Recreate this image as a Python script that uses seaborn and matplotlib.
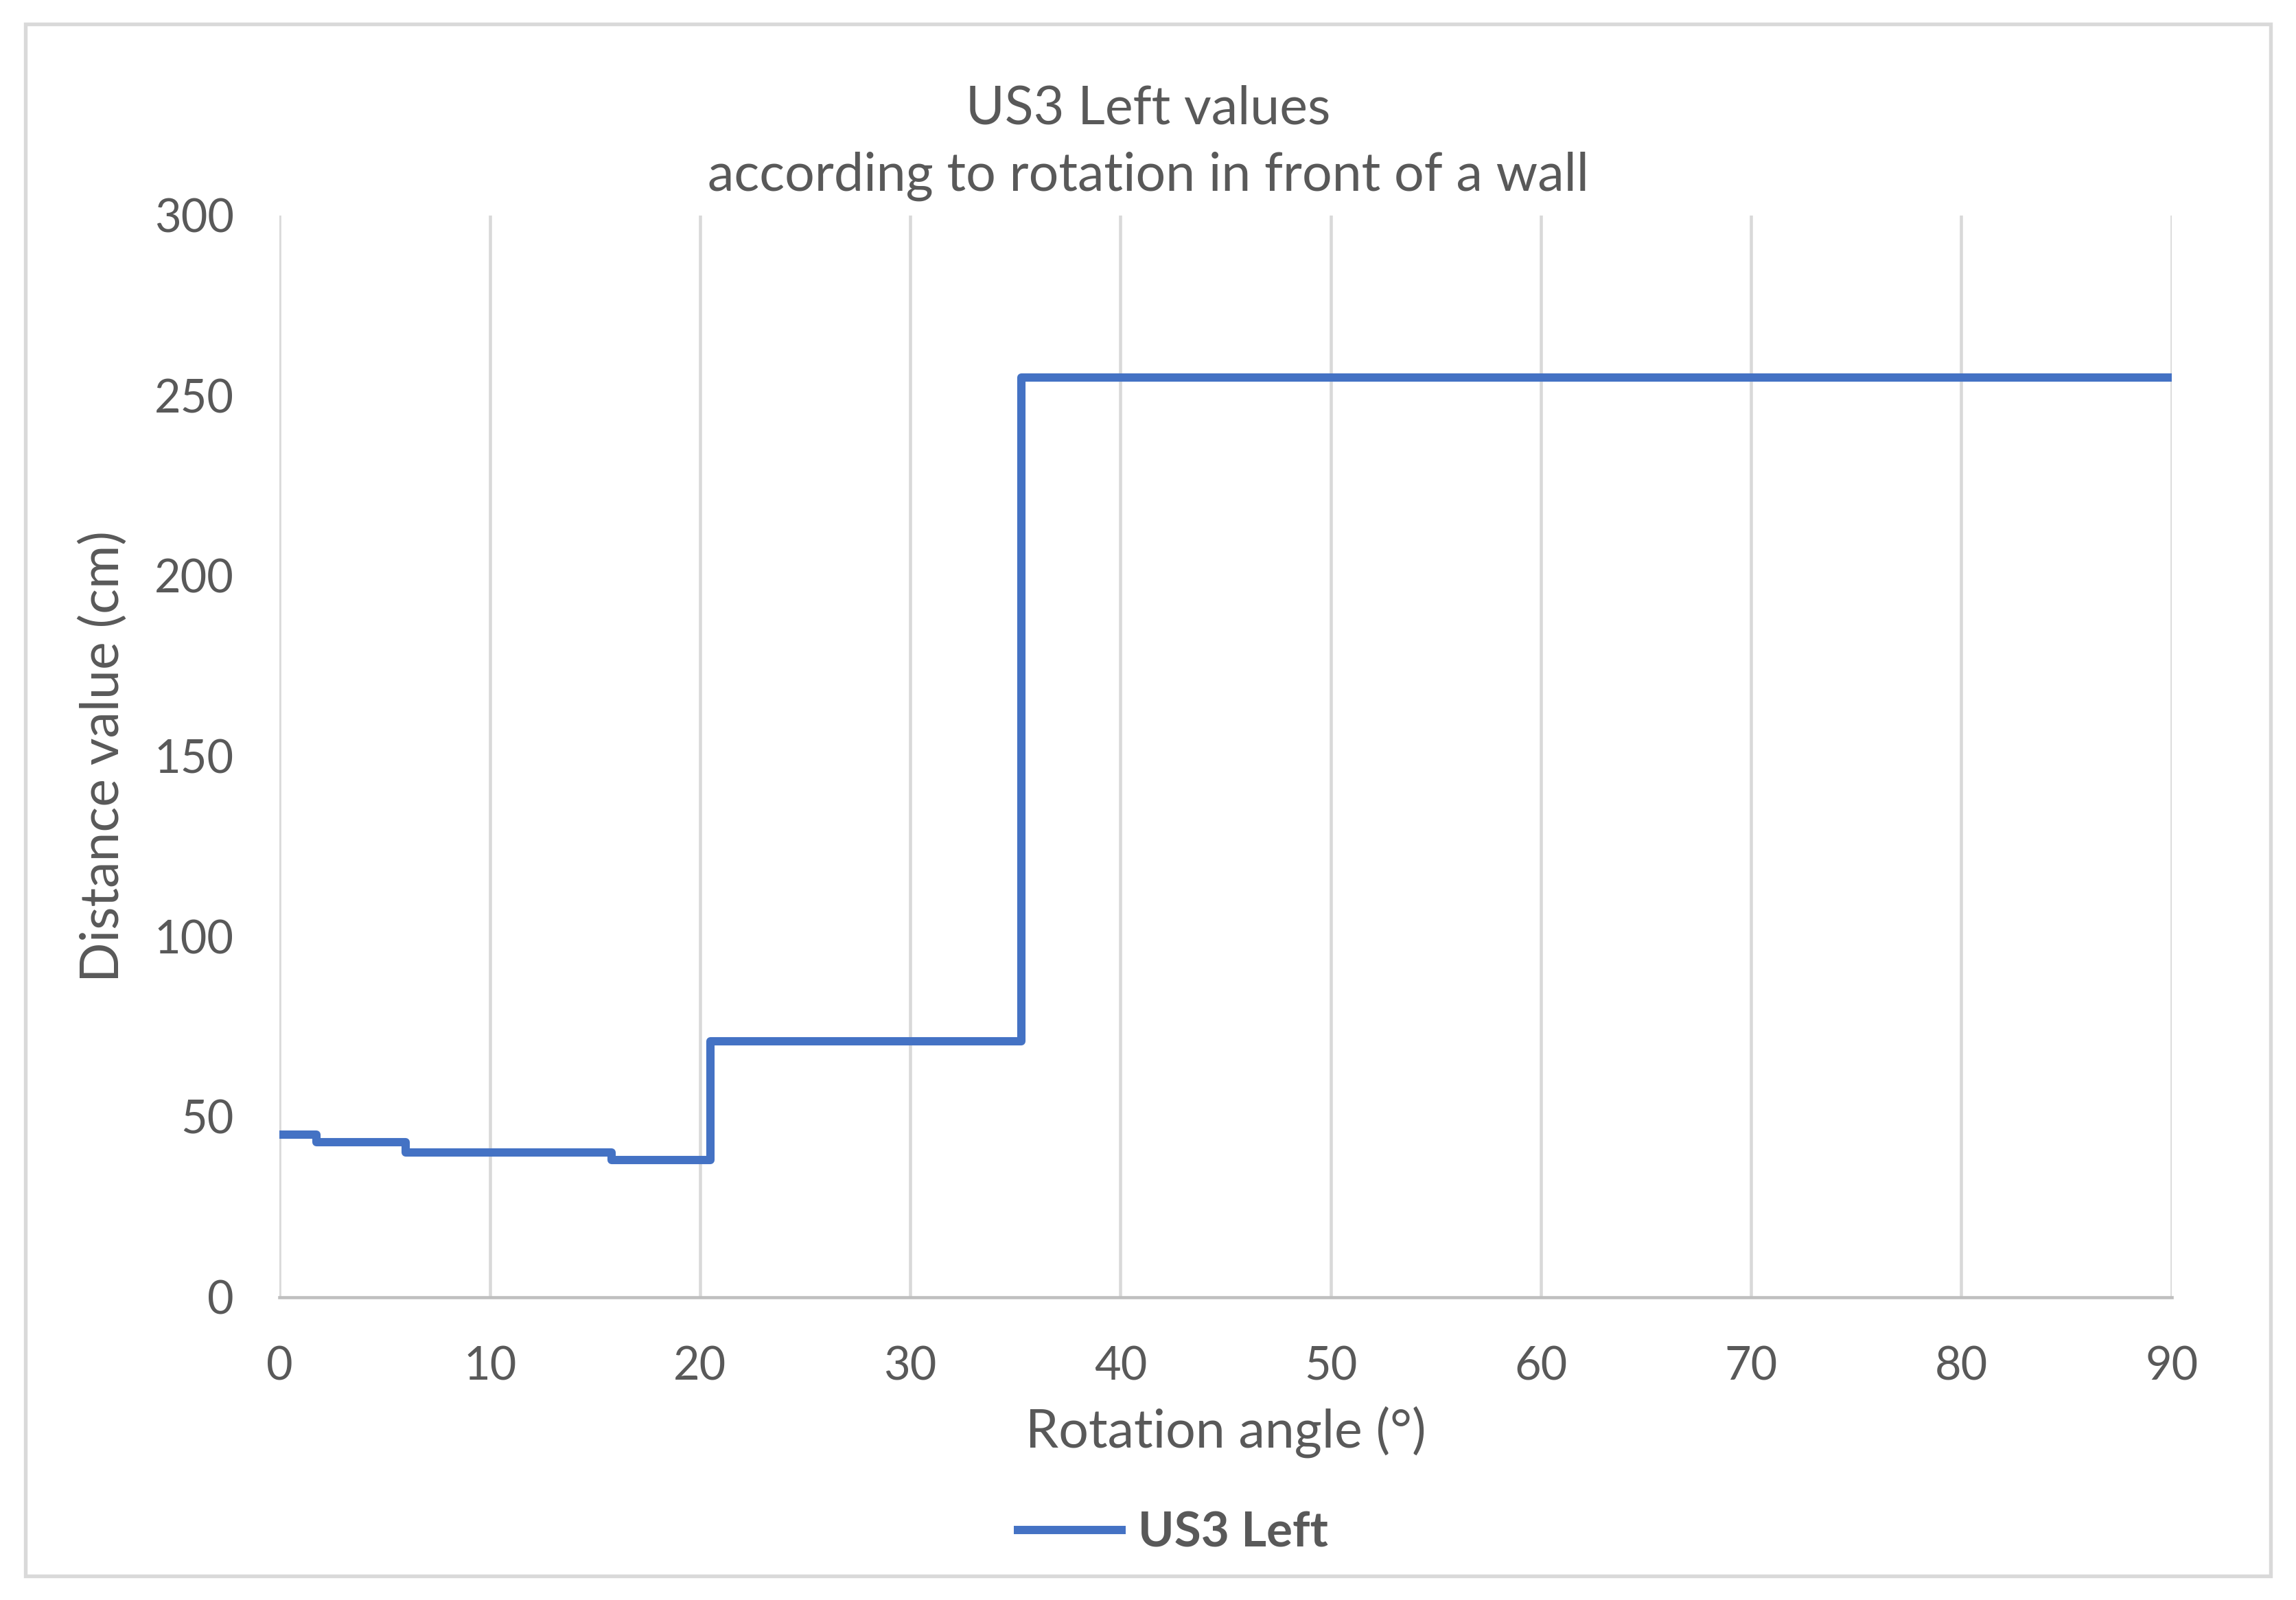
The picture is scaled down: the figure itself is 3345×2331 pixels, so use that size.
import numpy as np
import pandas as pd
import matplotlib
matplotlib.use('Agg')
import matplotlib.pyplot as plt
import seaborn as sns
from matplotlib.patches import Rectangle

# step data (angle where each level starts)
angle = [0, 1.75, 6.0, 15.8, 20.5, 35.3, 90]
distance = [45, 43, 40, 38, 71, 255, 255]
series_name = 'US3 Left'

df = pd.DataFrame({'Rotation angle': angle, 'Distance': distance})

sns.set_style('white')
plt.rcParams['font.family'] = ['Lato', 'DejaVu Sans']
txt = '#595959'

fig = plt.figure(figsize=(11.15, 7.77), dpi=300)
ax = fig.add_axes([0.1218, 0.1894, 0.824, 0.6761])

sns.lineplot(data=df, x='Rotation angle', y='Distance', ax=ax, color='#4472C4',
             linewidth=2.9, drawstyle='steps-post', label=series_name,
             solid_joinstyle='round', solid_capstyle='butt')

ax.set_xlim(0, 90)
ax.set_ylim(0, 300)
ax.set_xticks(np.arange(0, 91, 10))
ax.set_yticks(np.arange(0, 301, 50))
ax.grid(axis='x', color='#D9D9D9', linewidth=1.1)
ax.grid(axis='y', visible=False)
ax.set_axisbelow(True)
for s in ['top', 'right', 'left']:
    ax.spines[s].set_visible(False)
ax.spines['bottom'].set_color('#BFBFBF')
ax.spines['bottom'].set_linewidth(1.1)
ax.tick_params(axis='both', length=0, labelsize=16, labelcolor=txt)
ax.tick_params(axis='x', pad=17)
ax.tick_params(axis='y', pad=16)

ax.set_xlabel('Rotation angle (°)', fontsize=18.5, color=txt)
ax.set_ylabel('Distance value (cm)', fontsize=18.5, color=txt)
ax.xaxis.set_label_coords(0.5, -0.101)
ax.yaxis.set_label_coords(-0.080, 0.5)

fig.text(0.5, 0.932, 'US3 Left values', ha='center', va='center', fontsize=18.5, color=txt)
fig.text(0.5, 0.890, 'according to rotation in front of a wall', ha='center', va='center',
         fontsize=18.5, color=txt)

leg = ax.legend(loc='center', bbox_to_anchor=(0.510, 0.042), bbox_transform=fig.transFigure,
                frameon=False, fontsize=17, handlelength=2.3, handletextpad=0.25)
for t in leg.get_texts():
    t.set_color(txt)
    t.set_fontweight('bold')

fig.patches.append(Rectangle((0.011, 0.015), 0.978, 0.97, transform=fig.transFigure,
                             fill=False, edgecolor='#D9D9D9', linewidth=1.3))

fig.savefig('out.png', dpi=300, facecolor='white')
